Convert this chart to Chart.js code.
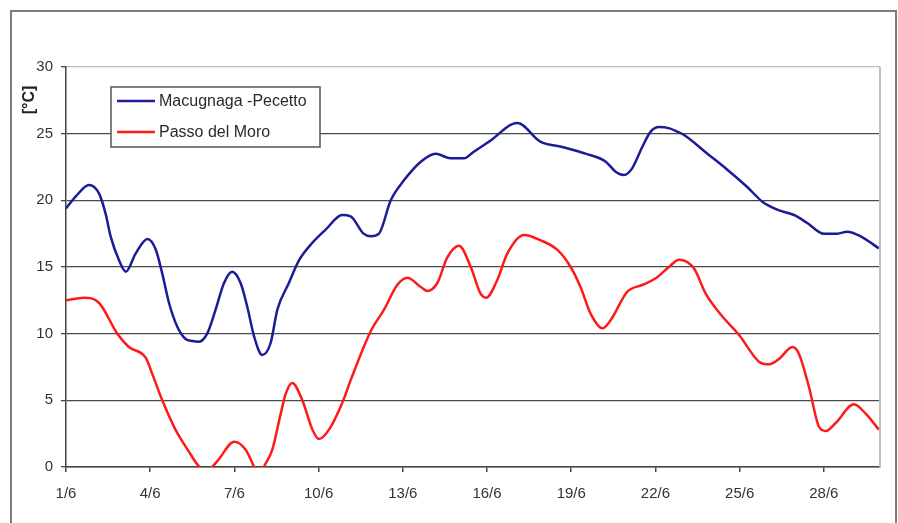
<!DOCTYPE html>
<html>
<head>
<meta charset="utf-8">
<title>Temperature – June</title>
<script src="https://cdn.jsdelivr.net/npm/chart.js@4/dist/chart.umd.min.js"></script>
<style>
  html, body { margin: 0; padding: 0; background: #ffffff; overflow: hidden; }
  #wrap { position: relative; width: 898px; height: 523px; }
  #frame {
    position: absolute; left: 10px; top: 10px; width: 887px; height: 540px;
    border: 2px solid #7c7c7c; box-sizing: border-box; pointer-events: none;
  }
  canvas { position: absolute; left: 0; top: 0; }
</style>
</head>
<body>
<div id="wrap">
  <canvas id="chart" width="898" height="523"></canvas>
  <div id="frame"></div>
</div>
<script>
// Day of June (fractional) and temperature in °C for each station
const pecettoDays = [1.0, 1.35, 1.82, 2.18, 2.41, 2.59, 2.89, 3.13, 3.48, 3.9, 4.2, 4.43, 4.67, 4.97, 5.26, 5.5, 5.74, 6.03, 6.33, 6.63, 6.92, 7.22, 7.46, 7.7, 7.99, 8.29, 8.53, 8.94, 9.3, 9.77, 10.25, 10.84, 11.14, 11.6, 11.86, 12.15, 12.57, 13.04, 13.64, 14.17, 14.7, 15.18, 15.53, 16.07, 17.08, 17.9, 18.68, 19.51, 20.23, 20.58, 20.88, 21.17, 21.53, 21.83, 22.13, 22.5, 22.78, 23.02, 23.85, 24.56, 25.27, 25.81, 26.34, 26.94, 27.41, 28.0, 28.48, 28.83, 29.31, 29.96];
const pecettoTemps = [19.4, 20.3, 21.15, 20.5, 19.0, 17.3, 15.5, 14.65, 16.0, 17.1, 16.3, 14.5, 12.3, 10.5, 9.6, 9.45, 9.4, 10.0, 11.8, 13.8, 14.65, 13.8, 12.0, 9.8, 8.4, 9.3, 11.8, 13.8, 15.5, 16.8, 17.8, 18.9, 18.8, 17.5, 17.3, 17.5, 20.0, 21.5, 22.9, 23.5, 23.15, 23.15, 23.65, 24.4, 25.8, 24.4, 24.0, 23.5, 22.9, 22.15, 21.9, 22.4, 24.0, 25.15, 25.5, 25.4, 25.15, 24.9, 23.5, 22.3, 21.0, 19.9, 19.3, 18.9, 18.3, 17.5, 17.5, 17.65, 17.3, 16.4];

const moroDays = [1.0, 1.64, 2.18, 2.83, 3.24, 3.84, 4.07, 4.43, 4.9, 5.38, 5.74, 6.0, 6.2, 6.45, 6.99, 7.4, 7.7, 7.88, 8.05, 8.35, 8.65, 8.83, 9.06, 9.42, 9.78, 10.01, 10.37, 10.84, 11.14, 11.86, 12.33, 12.8, 13.16, 13.64, 13.87, 14.23, 14.58, 15.0, 15.42, 15.77, 15.97, 16.36, 16.72, 17.32, 17.91, 18.5, 18.98, 19.33, 19.69, 20.11, 20.4, 21.0, 21.53, 22.01, 22.48, 22.84, 23.37, 23.79, 24.38, 24.98, 25.69, 26.05, 26.4, 26.88, 27.11, 27.47, 27.83, 28.07, 28.42, 29.07, 29.49, 29.96];
const moroTemps = [12.5, 12.7, 12.3, 10.0, 9.0, 8.2, 7.0, 5.0, 2.8, 1.15, 0.05, -0.15, 0.0, 0.6, 1.9, 1.3, 0.0, -0.9, 0.0, 1.3, 4.0, 5.5, 6.3, 5.0, 2.8, 2.1, 2.8, 4.8, 6.5, 10.2, 11.8, 13.65, 14.2, 13.5, 13.2, 13.8, 15.7, 16.6, 15.0, 13.0, 12.7, 14.0, 16.0, 17.4, 17.0, 16.3, 15.0, 13.5, 11.5, 10.4, 11.0, 13.15, 13.65, 14.15, 15.0, 15.55, 14.9, 13.0, 11.3, 9.9, 7.9, 7.7, 8.1, 9.0, 8.5, 6.0, 3.0, 2.7, 3.3, 4.7, 4.0, 2.8];

const seriesNames = ['Macugnaga -Pecetto', 'Passo del Moro'];
const tickDays = [1, 4, 7, 10, 13, 16, 19, 22, 25, 28];
const tickLabels = ['1/6', '4/6', '7/6', '10/6', '13/6', '16/6', '19/6', '22/6', '25/6', '28/6'];
const yTitle = '[°C]';

const toPoints = (xs, ys) => xs.map((x, i) => ({ x: x, y: ys[i] }));

Chart.defaults.font.family = '"Liberation Sans", Arial, sans-serif';
Chart.defaults.color = '#333333';

// Legend box inside the plot, y-axis caption and the light plot frame
const decorations = {
  id: 'decorations',
  afterDraw(chart) {
    const ctx = chart.ctx;
    const area = chart.chartArea;
    ctx.save();

    // light right edge of the plot area
    ctx.strokeStyle = '#bdbdbd';
    ctx.lineWidth = 2;
    ctx.beginPath();
    ctx.moveTo(area.right, area.top);
    ctx.lineTo(area.right, area.bottom);
    ctx.stroke();

    // y-axis caption
    ctx.fillStyle = '#222222';
    ctx.font = 'bold 16px "Liberation Sans", Arial, sans-serif';
    ctx.textAlign = 'center';
    ctx.textBaseline = 'middle';
    ctx.translate(30, 100);
    ctx.rotate(-Math.PI / 2);
    ctx.fillText(yTitle, 0, 0);
    ctx.setTransform(1, 0, 0, 1, 0, 0);

    // legend
    const bx = 111, by = 87, bw = 209, bh = 60;
    ctx.fillStyle = '#ffffff';
    ctx.fillRect(bx, by, bw, bh);
    ctx.strokeStyle = '#555555';
    ctx.lineWidth = 1.5;
    ctx.strokeRect(bx, by, bw, bh);
    ctx.font = '16px "Liberation Sans", Arial, sans-serif';
    ctx.textAlign = 'left';
    ctx.textBaseline = 'middle';
    chart.data.datasets.forEach((ds, i) => {
      const y = by + 14 + i * 31;
      ctx.strokeStyle = ds.borderColor;
      ctx.lineWidth = 2.5;
      ctx.beginPath();
      ctx.moveTo(bx + 6, y);
      ctx.lineTo(bx + 44, y);
      ctx.stroke();
      ctx.fillStyle = '#2a2a2a';
      ctx.fillText(ds.label, bx + 48, y + 1);
    });
    ctx.restore();
  }
};

new Chart(document.getElementById('chart'), {
  type: 'line',
  data: {
    datasets: [
      {
        label: seriesNames[0],
        data: toPoints(pecettoDays, pecettoTemps),
        borderColor: '#1c1c96',
        borderWidth: 2.5,
        pointRadius: 0,
        fill: false,
        cubicInterpolationMode: 'monotone'
      },
      {
        label: seriesNames[1],
        data: toPoints(moroDays, moroTemps),
        borderColor: '#ff1a1a',
        borderWidth: 2.5,
        pointRadius: 0,
        fill: false,
        cubicInterpolationMode: 'monotone',
        clip: { left: 2, top: 2, right: 2, bottom: 0 }
      }
    ]
  },
  options: {
    responsive: false,
    animation: false,
    devicePixelRatio: 1,
    layout: { padding: { top: 67, right: 18, left: 0, bottom: 0 } },
    plugins: {
      legend: { display: false },
      tooltip: { enabled: false }
    },
    scales: {
      x: {
        type: 'linear',
        min: 1,
        max: 30,
        afterBuildTicks: (scale) => { scale.ticks = tickDays.map(v => ({ value: v })); },
        afterFit: (scale) => { scale.height = 56; },
        ticks: {
          autoSkip: false,
          maxRotation: 0,
          padding: 13,
          font: { size: 15 },
          color: '#333333',
          callback: (value) => tickLabels[tickDays.indexOf(value)]
        },
        grid: { drawOnChartArea: false, drawTicks: true, tickLength: 5, color: '#444444', lineWidth: 1.5 },
        border: { display: true, color: '#444444', width: 1.5 }
      },
      y: {
        min: 0,
        max: 30,
        afterFit: (scale) => { scale.width = 66; },
        ticks: { stepSize: 5, padding: 8, font: { size: 15 }, color: '#333333' },
        grid: {
          color: (c) => (c.tick && c.tick.value === 30 ? '#bdbdbd' : '#4a4a4a'),
          lineWidth: 1.3,
          tickLength: 5,
          tickColor: '#444444'
        },
        border: { display: true, color: '#444444', width: 1.5 }
      }
    }
  },
  plugins: [decorations]
});
</script>
</body>
</html>
